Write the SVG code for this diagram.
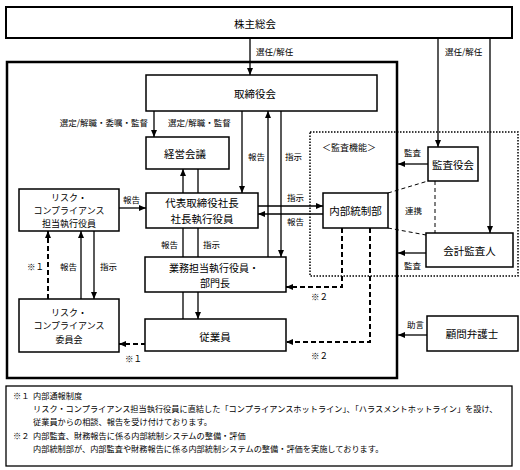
<svg xmlns="http://www.w3.org/2000/svg" width="520" height="470" viewBox="0 0 520 470">
<defs>
<marker id="ah" markerWidth="7" markerHeight="6" refX="7" refY="3" orient="auto" markerUnits="userSpaceOnUse"><path d="M0,0 L7,3 L0,6 z" fill="#000"/></marker>
<style>
text{font-family:"Noto Sans CJK JP","Noto Sans CJK SC",sans-serif;fill:#000}
.n{font-size:10.5px;text-anchor:middle;dominant-baseline:central}
.n3{font-size:9px;text-anchor:middle;dominant-baseline:central}
.n2{font-size:10px;text-anchor:middle;dominant-baseline:central}
.l{font-size:8.5px}
.t{font-size:8.2px}
.box{fill:#fff;stroke:#000;stroke-width:1.5}
.ln{fill:none;stroke:#000;stroke-width:1.3}
.dsh{fill:none;stroke:#000;stroke-width:2;stroke-dasharray:5,3}
.thin{fill:none;stroke:#000;stroke-width:1;stroke-dasharray:4,3}
</style>
</defs>
<rect width="520" height="470" fill="#fff"/>
<rect x="7" y="62" width="390" height="316" fill="none" stroke="#000" stroke-width="2.5"/>
<rect x="310" y="132" width="208" height="144" fill="none" stroke="#000" stroke-width="1.5" stroke-dasharray="1.5,1.5"/>
<text x="322" y="151" style="font-size:9px">＜監査機能＞</text>
<g id="connectors">
<line class="ln" x1="250" y1="38" x2="250" y2="75" marker-end="url(#ah)"/>
<line class="ln" x1="438" y1="38" x2="438" y2="147" marker-end="url(#ah)"/>
<line class="ln" x1="490" y1="38" x2="490" y2="233" marker-end="url(#ah)"/>
<line class="ln" x1="154" y1="111" x2="154" y2="137" marker-end="url(#ah)"/>
<line class="ln" x1="242" y1="111" x2="242" y2="193" marker-end="url(#ah)"/>
<line class="ln" x1="183" y1="193" x2="183" y2="169" marker-end="url(#ah)"/>
<line class="ln" x1="198" y1="169" x2="198" y2="193"/>
<line class="ln" x1="268" y1="257" x2="268" y2="111" marker-end="url(#ah)"/>
<line class="ln" x1="281" y1="111" x2="281" y2="257" marker-end="url(#ah)"/>
<line class="ln" x1="119" y1="208" x2="146" y2="208" marker-end="url(#ah)"/>
<line class="ln" x1="258" y1="206" x2="323" y2="206" marker-end="url(#ah)"/>
<line class="ln" x1="323" y1="214" x2="258" y2="214" marker-end="url(#ah)"/>
<line class="ln" x1="183" y1="228" x2="183" y2="257"/>
<line class="ln" x1="198" y1="228" x2="198" y2="257"/>
<line class="ln" x1="183" y1="292" x2="183" y2="319"/>
<line class="ln" x1="198" y1="292" x2="198" y2="319" marker-end="url(#ah)"/>
<line class="dsh" x1="48" y1="299" x2="48" y2="231" marker-end="url(#ah)"/>
<line class="ln" x1="81" y1="299" x2="81" y2="231" marker-end="url(#ah)"/>
<line class="ln" x1="94" y1="231" x2="94" y2="299" marker-end="url(#ah)"/>
<line class="dsh" x1="146" y1="344" x2="119" y2="344" marker-end="url(#ah)"/>
<path class="dsh" d="M342,228 V287 H286" marker-end="url(#ah)"/>
<path class="dsh" d="M370,228 V342 H286" marker-end="url(#ah)"/>
<line class="ln" x1="428" y1="164" x2="398" y2="164" marker-end="url(#ah)"/>
<line class="ln" x1="426" y1="253" x2="398" y2="253" marker-end="url(#ah)"/>
<line class="ln" x1="427" y1="335" x2="398" y2="335" marker-end="url(#ah)"/>
<line class="thin" x1="388" y1="193" x2="428" y2="181"/>
<line class="thin" x1="388" y1="228" x2="426" y2="235"/>
<line class="thin" x1="435" y1="181" x2="435" y2="233"/>
<text class="l" x="256" y="55">選任/解任</text>
<text class="l" x="445" y="55">選任/解任</text>
<text class="l" x="148" y="126" text-anchor="end">選定/解職・委嘱・監督</text>
<text class="l" x="168" y="126">選定/解職・監督</text>
<text class="l" x="248" y="160">報告</text>
<text class="l" x="285" y="160">指示</text>
<text class="l" x="123" y="203">報告</text>
<text class="l" x="287" y="201">指示</text>
<text class="l" x="287" y="225">報告</text>
<text class="l" x="161" y="248">報告</text>
<text class="l" x="203" y="248">指示</text>
<text class="l" x="27" y="270">※１</text>
<text class="l" x="60" y="270">報告</text>
<text class="l" x="100" y="270">指示</text>
<text class="l" x="125" y="362">※１</text>
<text class="l" x="311" y="300">※２</text>
<text class="l" x="311" y="359">※２</text>
<text class="l" x="404" y="156">監査</text>
<text class="l" x="404" y="269">監査</text>
<text class="l" x="407" y="328">助言</text>
<text class="l" x="405" y="214">連携</text>
</g>
<g id="kabunushi"><rect x="6" y="7" width="506" height="31" fill="#fff" stroke="#000" stroke-width="2"/><text class="n" x="255" y="23">株主総会</text></g>
<g id="torishimariyaku"><rect class="box" x="146" y="75" width="231" height="36"/><text class="n" x="255" y="93">取締役会</text></g>
<g id="keiei"><rect class="box" x="146" y="137" width="83" height="32"/><text class="n" x="185" y="153">経営会議</text></g>
<g id="daihyo"><rect class="box" x="146" y="193" width="112" height="35"/><text class="n" x="202" y="202.5">代表取締役社長</text><text class="n" x="202" y="218">社長執行役員</text></g>
<g id="risk-yakuin"><rect class="box" x="19" y="189" width="100" height="42"/><text class="n3" x="69" y="197">リスク・</text><text class="n3" x="69" y="210">コンプライアンス</text><text class="n3" x="69" y="223">担当執行役員</text></g>
<g id="gyomu"><rect class="box" x="145" y="257" width="141" height="35"/><text class="n2" x="214" y="267">業務担当執行役員・</text><text class="n2" x="215" y="282.5">部門長</text></g>
<g id="jugyoin"><rect class="box" x="145" y="319" width="141" height="32"/><text class="n" x="215" y="336">従業員</text></g>
<g id="risk-iinkai"><rect class="box" x="19" y="299" width="100" height="53"/><text class="n3" x="69" y="312">リスク・</text><text class="n3" x="69" y="325.5">コンプライアンス</text><text class="n3" x="69" y="339">委員会</text></g>
<g id="naibu"><rect class="box" x="323" y="193" width="65" height="35"/><text class="n" x="355.5" y="210.5">内部統制部</text></g>
<g id="kansayaku"><rect class="box" x="428" y="147" width="50" height="34"/><text class="n" x="453" y="164">監査役会</text></g>
<g id="kaikei"><rect class="box" x="426" y="233" width="87" height="34"/><text class="n" x="469.5" y="250">会計監査人</text></g>
<g id="komon"><rect class="box" x="427" y="316" width="91" height="35"/><text class="n" x="472" y="333.5">顧問弁護士</text></g>
<g id="notes">
<rect x="6" y="386" width="506" height="80" fill="#fff" stroke="#000" stroke-width="1.3"/>
<text class="t" x="13" y="399">※１</text>
<text class="t" x="33" y="399">内部通報制度</text>
<text class="t" x="33" y="412">リスク・コンプライアンス担当執行役員に直結した「コンプライアンスホットライン」、「ハラスメントホットライン」を設け、</text>
<text class="t" x="33" y="425">従業員からの相談、報告を受け付けております。</text>
<text class="t" x="13" y="439">※２</text>
<text class="t" x="33" y="439">内部監査、財務報告に係る内部統制システムの整備・評価</text>
<text class="t" x="33" y="452">内部統制部が、内部監査や財務報告に係る内部統制システムの整備・評価を実施しております。</text>
</g>
</svg>
